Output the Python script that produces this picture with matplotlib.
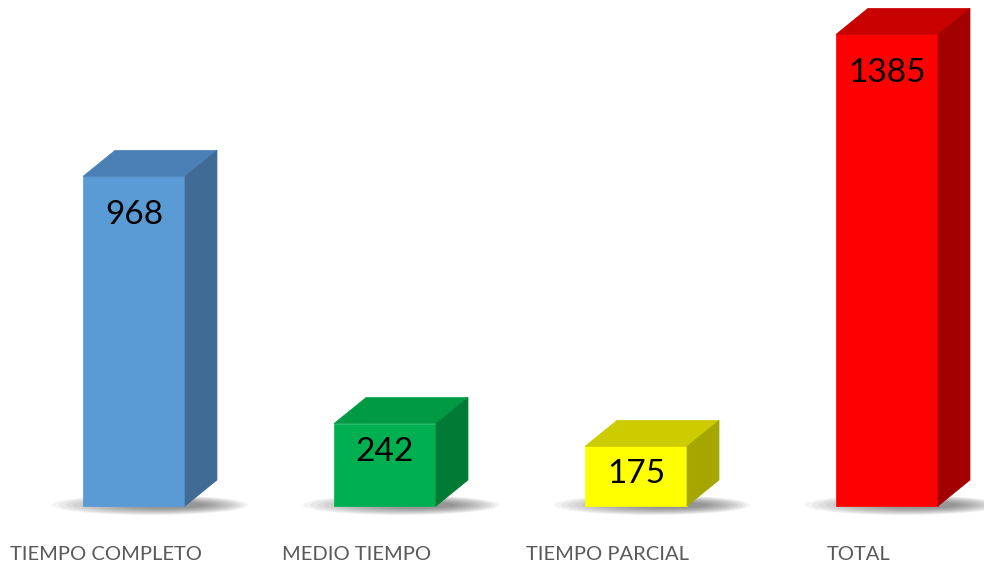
import matplotlib
matplotlib.use("Agg")
import matplotlib.pyplot as plt
from matplotlib.patches import Rectangle, Polygon, Ellipse

categories = ["TIEMPO COMPLETO", "MEDIO TIEMPO", "TIEMPO PARCIAL", "TOTAL"]
values = [968, 242, 175, 1385]
front_colors = ["#5B9BD5", "#00B050", "#FFFF00", "#FF0000"]
top_colors = ["#4A80B6", "#009A44", "#CCCC00", "#C80000"]
side_colors = ["#3F6B94", "#007A35", "#A6A600", "#A30000"]

W, H = 984, 568
fig = plt.figure(figsize=(W / 100, H / 100), dpi=100)
ax = fig.add_axes([0, 0, 1, 1])
ax.set_axis_off()

# pixel mapping
x0_px, step_px = 134, 251
y0_px_from_bottom = 62
px_per_unit = 0.3405
ax.set_xlim(-x0_px / step_px, (W - x0_px) / step_px)
ax.set_ylim(-y0_px_from_bottom / px_per_unit, (H - y0_px_from_bottom) / px_per_unit)

bw = 102 / step_px
dx = 32 / step_px
dy = 26 / px_per_unit

for i, (v, fc, tc, sc) in enumerate(zip(values, front_colors, top_colors, side_colors)):
    left = i - bw / 2
    right = i + bw / 2
    # soft shadow at the base, stronger towards the right
    for k in range(12):
        ax.add_patch(Ellipse((i + (16 + k * 1.5) / step_px, 1 / px_per_unit),
                             (196 - k * 11) / step_px, (20 - k * 1.2) / px_per_unit,
                             facecolor="#3a3a3a", edgecolor="none", alpha=0.06, zorder=1))
    ax.add_patch(Rectangle((left, 0), bw, v, facecolor=fc, edgecolor=fc, lw=0.5, zorder=3))
    ax.add_patch(Polygon([(left, v), (left + dx, v + dy), (right + dx, v + dy), (right, v)],
                         closed=True, facecolor=tc, edgecolor=tc, lw=0.5, zorder=3))
    ax.add_patch(Polygon([(right, 0), (right + dx, dy), (right + dx, v + dy), (right, v)],
                         closed=True, facecolor=sc, edgecolor=sc, lw=0.5, zorder=3))
    h_px = v * px_per_unit
    off_px = 39 if h_px > 150 else 28
    ax.text(i, v - off_px / px_per_unit, f"{v}", ha="center", va="center",
            fontsize=24, family="Lato", color="black", zorder=4)
    ax.text(i - 28 / step_px, -48 / px_per_unit, categories[i], ha="center", va="center",
            fontsize=14.5, family="Lato", color="#595959", zorder=4)

fig.savefig("out.png", dpi=100, facecolor="white")
